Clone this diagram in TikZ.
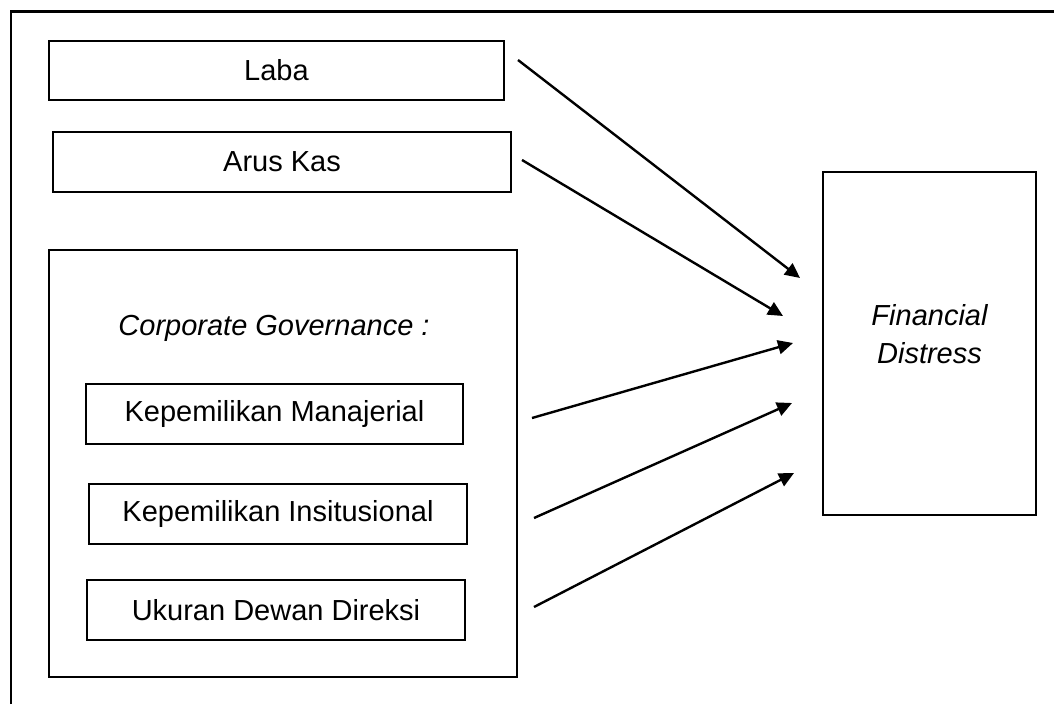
\documentclass[tikz,border=0pt]{standalone}
\usepackage{fontspec}
\setmainfont{Liberation Sans}
\usetikzlibrary{arrows.meta}
\begin{document}
\begin{tikzpicture}[x=1pt,y=-1pt,
  every node/.style={font=\fontsize{29}{38}\selectfont, inner sep=0pt},
  box/.style={draw, line width=2.2pt, rectangle},
  link/.style={line width=2.4pt, -{Triangle[length=15pt,width=14pt]}}]
\useasboundingbox (0,0) rectangle (1054,704);
% outer frame (only top and left edges visible)
\draw[line width=2.2pt] (11,704) -- (11,11.5) -- (1054,11.5);
% boxes
\node[box, minimum width=455pt, minimum height=59pt] (laba) at (276.5,70.5) {Laba};
\node[box, minimum width=458pt, minimum height=60pt] (arus) at (282,162) {Arus Kas};
\node[box, minimum width=468pt, minimum height=427pt] (cg) at (283,463.5) {};
\node (cgt) at (274,328) {\itshape Corporate Governance :};
\node[box, minimum width=377pt, minimum height=60pt] (km) at (274.5,414) {Kepemilikan Manajerial};
\node[box, minimum width=378pt, minimum height=60pt] (ki) at (278,514) {Kepemilikan Insitusional};
\node[box, minimum width=378pt, minimum height=60pt] (ud) at (276,610) {Ukuran Dewan Direksi};
\node[box, minimum width=213pt, minimum height=343pt] (fd) at (929.5,343.5) {};
\node[align=center] (fdt) at (929.5,334) {\itshape Financial\\\itshape Distress};
% arrow end points
\coordinate (s1) at (518,60);  \coordinate (e1) at (800,278);
\coordinate (s2) at (522,160); \coordinate (e2) at (783,316);
\coordinate (s3) at (532,418); \coordinate (e3) at (793,343);
\coordinate (s4) at (534,518); \coordinate (e4) at (792,403);
\coordinate (s5) at (534,607); \coordinate (e5) at (794,473);
\draw[link] (s1) -- (e1);
\draw[link] (s2) -- (e2);
\draw[link] (s3) -- (e3);
\draw[link] (s4) -- (e4);
\draw[link] (s5) -- (e5);
\end{tikzpicture}
\end{document}
